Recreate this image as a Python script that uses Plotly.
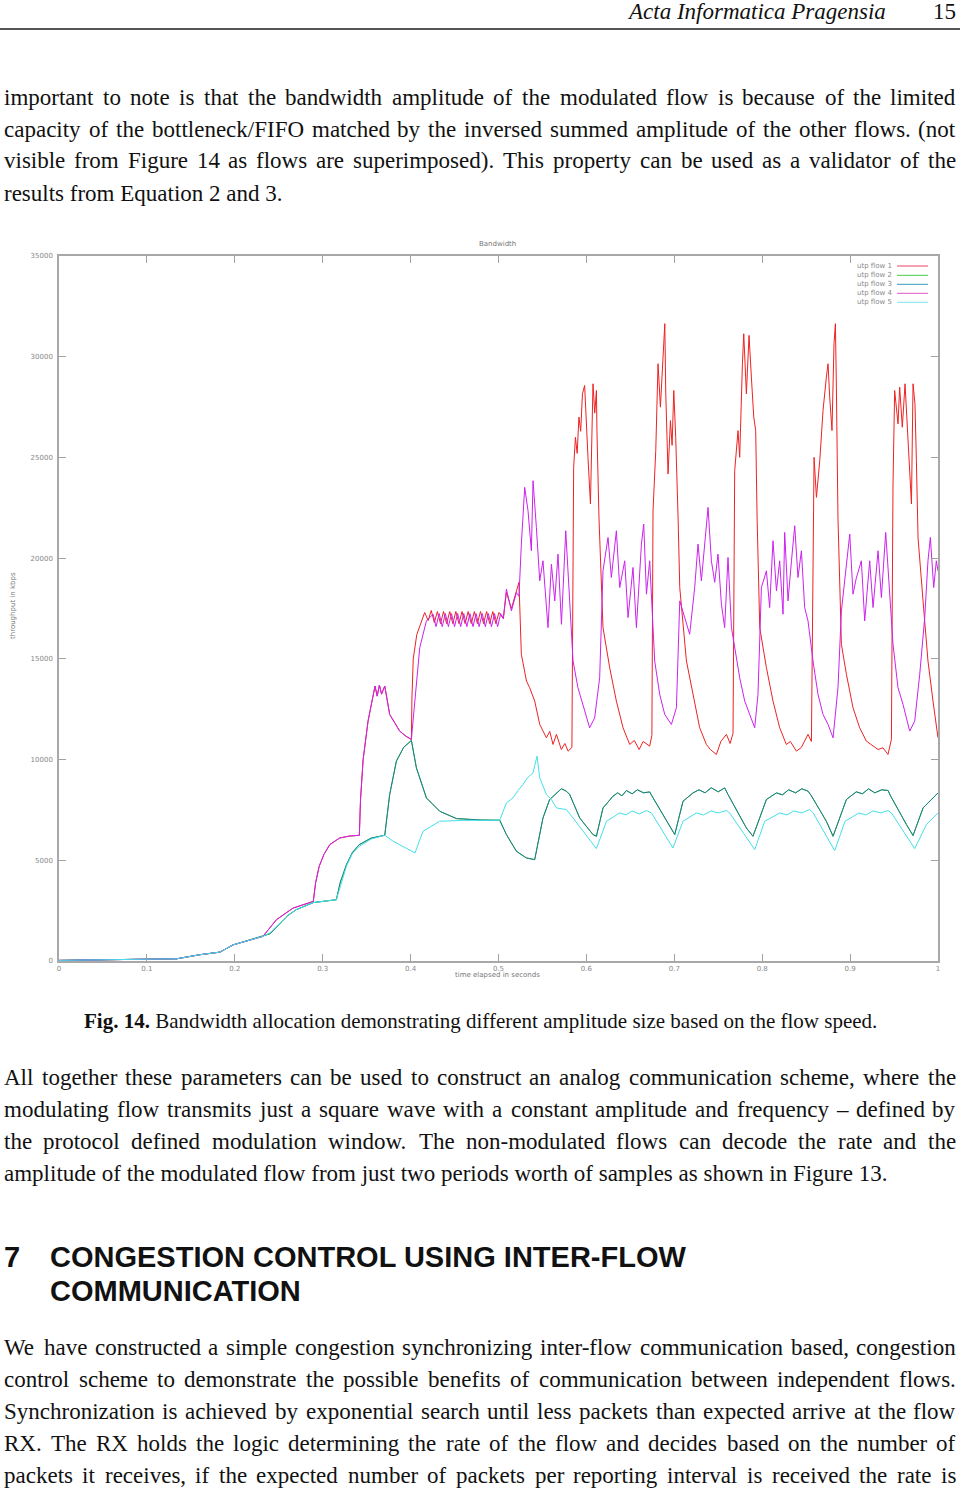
import plotly.graph_objects as go

# ------------------------------------------------------------------ data
x_ticks = [0, 0.1, 0.2, 0.3, 0.4, 0.5, 0.6, 0.7, 0.8, 0.9, 1.0]
x_tick_labels = ["0", "0.1", "0.2", "0.3", "0.4", "0.5", "0.6", "0.7", "0.8", "0.9", "1"]
y_ticks = [0, 5000, 10000, 15000, 20000, 25000, 30000, 35000]
y_tick_labels = ["0", "5000", "10000", "15000", "20000", "25000", "30000", "35000"]

flow_names = ["utp flow 1", "utp flow 2", "utp flow 3", "utp flow 4", "utp flow 5"]

# start-up phase shared by all flows (time in s, throughput in kbps)
early_x = [0.0, 0.02, 0.05, 0.08, 0.10, 0.12, 0.134, 0.16, 0.183, 0.198, 0.213, 0.232]
early_y = [30, 40, 50, 60, 70, 90, 110, 310, 440, 800, 1000, 1220]

# fast pair (flows 1 and 4) until 0.40 s
fast_x = [0.2473, 0.2662, 0.2893, 0.292, 0.296, 0.3015, 0.3081, 0.3193, 0.33, 0.3417,
          0.343, 0.346, 0.3516, 0.3573, 0.3595, 0.362, 0.3645, 0.367, 0.3706,
          0.3762, 0.3876, 0.395, 0.4009]
fast_y = [2049, 2626, 2959, 3900, 4700, 5300, 5779, 6107, 6200, 6241,
          8000, 10000, 11911, 13238, 13650, 13150, 13700, 13250, 13651,
          12244, 11413, 11150, 11000]

# flow 1 (red) from 0.40 s
red_x = [0.4015, 0.403, 0.407, 0.412, 0.416, 0.42, 0.4235, 0.427, 0.4305, 0.434, 0.4375,
         0.441, 0.4445, 0.448, 0.4515, 0.455, 0.4585, 0.462, 0.4655, 0.469, 0.4725, 0.476,
         0.4795, 0.483, 0.4865, 0.49, 0.4935, 0.497, 0.5005, 0.5055,
         0.509, 0.5147, 0.5204, 0.5233, 0.526, 0.5318, 0.5355, 0.5412, 0.5469, 0.5545,
         0.5583, 0.562, 0.5659, 0.5715, 0.5755, 0.5792, 0.5835,
         0.5848, 0.5855, 0.5875, 0.5895, 0.5915, 0.5935, 0.5955, 0.598, 0.6018, 0.6046,
         0.6075, 0.6095, 0.6114, 0.612, 0.6143, 0.6189, 0.6265, 0.6341, 0.6417, 0.6493,
         0.6545, 0.66, 0.6645, 0.672, 0.6745,
         0.6758, 0.6789, 0.6815, 0.6842, 0.6872, 0.6892, 0.6903, 0.6929, 0.6956, 0.6975,
         0.6994, 0.7016, 0.7043, 0.7062, 0.7138, 0.7213, 0.7289, 0.7365, 0.741, 0.7479,
         0.753, 0.7593, 0.7635, 0.7668,
         0.7687, 0.7725, 0.7744, 0.7775, 0.779, 0.782, 0.785, 0.7877, 0.7904, 0.7926,
         0.7942, 0.7972, 0.8048, 0.8123, 0.8199, 0.8275, 0.832, 0.8389, 0.8445, 0.8521, 0.856,
         0.859, 0.8617, 0.8655, 0.8692, 0.873, 0.8749, 0.8768, 0.8794, 0.8817, 0.8833,
         0.8844, 0.8862, 0.8901, 0.8958, 0.9033, 0.9109, 0.9185, 0.925, 0.9318, 0.9374,
         0.9431, 0.947,
         0.9488, 0.9507, 0.9545, 0.9564, 0.9594, 0.9625, 0.9645, 0.967, 0.9698, 0.9716,
         0.9738, 0.9754, 0.9773, 0.983, 0.9886, 0.9943, 1.0]
red_y = [13000, 15000, 16200, 16800, 17300, 16900, 17400, 16800, 17350, 16750, 17350,
         16750, 17350, 16750, 17350, 16750, 17350, 16750, 17350, 16750, 17350, 16750,
         17350, 16750, 17350, 16750, 17350, 16750, 17300, 17000,
         18300, 17500, 18400, 18800, 15228, 13900, 13566, 12905, 11746, 11080,
         11400, 10750, 11250, 10500, 10800, 10418, 10600,
         22350, 24500, 26000, 25200, 27000, 26300, 28157, 28572, 25006, 22687,
         28655, 27200, 28323, 26333, 22000, 16550, 14561, 12905, 11577, 10750,
         10950, 10500, 10900, 10667, 11200,
         22350, 25337, 29650, 27495, 30314, 31640, 28157, 24180, 26830, 25600,
         28323, 26000, 22000, 18540, 14893, 13235, 11577, 10750, 10500, 10254,
         10900, 11250, 10800, 11300,
         24345, 26333, 25006, 29650, 31142, 28157, 31059, 28987, 26996, 26333,
         22000, 16550, 14561, 12905, 11577, 10750, 10900, 10418, 10600, 11250, 10900,
         25006, 23016, 24841, 27329, 28987, 29650, 27992, 26333, 30645, 31640,
         28489, 22000, 15725, 14233, 12573, 11577, 10915, 10700, 10500, 10584,
         10254, 11000,
         23680, 28323, 26665, 28489, 26499, 28655, 27000, 25006, 22687, 28655,
         27660, 24841, 21000, 17878, 14893, 12905, 11080]

# flow 4 (magenta) from 0.40 s
mag_x = [0.404, 0.4104, 0.418, 0.4256, 0.429, 0.4325, 0.436, 0.4395, 0.443, 0.4465, 0.45,
         0.4535, 0.457, 0.4605, 0.464, 0.4675, 0.471, 0.4745, 0.478, 0.4815, 0.485, 0.4885,
         0.492, 0.4955, 0.499, 0.5025, 0.5055,
         0.509, 0.5147, 0.5204, 0.5233, 0.526, 0.5298, 0.5336, 0.5374, 0.5393, 0.5431,
         0.5469, 0.5506, 0.5563, 0.5602, 0.564, 0.5677, 0.5716, 0.5765, 0.5802,
         0.5848, 0.5904, 0.5961, 0.6037, 0.6094, 0.6151,
         0.6189, 0.6246, 0.6284, 0.6341, 0.6379, 0.6436, 0.6474, 0.653, 0.6569, 0.6626,
         0.6652, 0.6683, 0.672,
         0.6777, 0.6834, 0.6891, 0.6967, 0.7024,
         0.7062, 0.7118, 0.7175, 0.7232, 0.727, 0.7308, 0.7357, 0.7384, 0.7422, 0.746,
         0.7497, 0.7536, 0.7573, 0.7611, 0.765,
         0.7687, 0.7744, 0.7801, 0.7858, 0.7915, 0.7952,
         0.7991, 0.8048, 0.8085, 0.8123, 0.8162, 0.8199, 0.8237, 0.8256, 0.8294, 0.8333,
         0.837, 0.8407, 0.8446, 0.8483, 0.8521,
         0.8578, 0.8635, 0.8692, 0.8749, 0.8806, 0.8862,
         0.8901, 0.8958, 0.8996, 0.9033, 0.907, 0.9128, 0.9166, 0.9223, 0.9261, 0.9318,
         0.9356, 0.9405, 0.9443,
         0.9488, 0.9545, 0.9602, 0.9678, 0.9735, 0.9792,
         0.9849, 0.9886, 0.9913, 0.9951, 0.9981, 1.0]
mag_y = [12500, 15556, 16883, 17215, 16600, 17250, 16600, 17250, 16600, 17250, 16600,
         17250, 16600, 17250, 16600, 17250, 16600, 17250, 16600, 17250, 16600, 17250,
         16600, 17250, 16600, 17250, 17000,
         18458, 17380, 18290, 18100, 20697, 23514, 22355, 20366, 23845, 21526,
         18873, 19868, 16550, 19702, 17878, 20200, 16716, 21360, 18210,
         14893, 13566, 12739, 11577, 12075, 14064,
         19370, 21028, 19039, 21360, 18541, 19868, 17049, 19536, 16550, 20697,
         21692, 18210, 19868,
         14893, 13235, 12241, 11743, 12573,
         17878, 17049, 16220, 18541, 20697, 18873, 21028, 22520, 19868, 18800,
         20200, 17712, 16550, 20034, 16550,
         15560, 14064, 12905, 12241, 11577, 13235,
         18541, 19370, 17546, 20863, 18375, 19868, 17215, 21277, 17878, 19868,
         21609, 19039, 20366, 17546, 16883,
         14893, 13235, 12241, 11743, 11080, 13566,
         17380, 19702, 21194, 18210, 19000, 19868, 16883, 19868, 17546, 20366,
         18042, 21277, 18541,
         15725, 13566, 12739, 11412, 11909, 14233,
         17049, 19868, 21028, 18541, 19868, 19370]

# flow 3 (blue) after the start-up phase
blue_x = [0.24, 0.25, 0.26, 0.27, 0.2893, 0.3155, 0.32, 0.327, 0.334, 0.3417, 0.355, 0.3706,
          0.3735, 0.3762, 0.3838, 0.392, 0.4009, 0.4066, 0.418, 0.4331, 0.4521, 0.48, 0.5014,
          0.509, 0.5204, 0.5318, 0.5412, 0.545, 0.5506, 0.5582, 0.5659, 0.5715, 0.5772, 0.581,
          0.5924, 0.6075, 0.6114, 0.6189, 0.6303, 0.6355, 0.6405, 0.6455, 0.652, 0.658, 0.665,
          0.672, 0.6745, 0.691, 0.7005, 0.7099, 0.7213, 0.728, 0.735, 0.742, 0.75, 0.7573,
          0.7611, 0.782, 0.7895, 0.8048, 0.8162, 0.823, 0.83, 0.838, 0.845, 0.8522, 0.856,
          0.873, 0.8806, 0.8958, 0.907, 0.914, 0.921, 0.928, 0.936, 0.9432, 0.946, 0.9641,
          0.9716, 0.983, 0.992, 1.0]
blue_y = [1350, 1800, 2250, 2550, 2900, 3043, 3900, 4784, 5400, 5779, 6100, 6241,
          7200, 8265, 9921, 10600, 10950, 9589, 8096, 7435, 7070, 7000, 6987,
          6276, 5446, 5114, 5032, 5942, 7101, 8017, 8345, 8550, 8430, 8265,
          7101, 6276, 6192, 7599, 8181, 8350, 8200, 8464, 8300, 8500, 8350,
          8394, 8200, 6937, 6276, 7932, 8345, 8500, 8350, 8600, 8400, 8594,
          8265, 6604, 6192, 8017, 8345, 8250, 8500, 8350, 8550, 8430, 8200,
          6937, 6192, 8017, 8400, 8300, 8550, 8350, 8500, 8464, 8200, 6773,
          6226, 7599, 8000, 8345]

# flow 5 (cyan) after the start-up phase
cyan_x = [0.24, 0.25, 0.26, 0.27, 0.2893, 0.3155, 0.32, 0.327, 0.334, 0.3417, 0.355, 0.3706,
          0.38, 0.39, 0.398, 0.405, 0.4141, 0.4331, 0.46, 0.5014,
          0.509, 0.5165, 0.522, 0.5279, 0.533, 0.5393, 0.5438, 0.5469, 0.5545, 0.5602,
          0.5659, 0.5772, 0.5848, 0.6114, 0.6228, 0.6379, 0.645, 0.652, 0.66, 0.6683, 0.674,
          0.6985, 0.7099, 0.725, 0.733, 0.742, 0.75, 0.7593, 0.763,
          0.7915, 0.8029, 0.82, 0.828, 0.836, 0.845, 0.854, 0.858,
          0.8825, 0.8942, 0.91, 0.918, 0.926, 0.935, 0.9432, 0.947,
          0.9735, 0.9868, 1.0]
cyan_y = [1400, 1800, 2250, 2550, 2900, 3043, 3700, 4700, 5350, 5700, 6050, 6241,
          5950, 5700, 5500, 5361, 6440, 6937, 6980, 6987,
          7848, 8096, 8450, 8762, 9100, 9341, 10170, 9092, 8265, 8017,
          7599, 7519, 7101, 5580, 6937, 7350, 7250, 7450, 7300, 7470, 7350,
          5610, 6937, 7350, 7250, 7450, 7350, 7470, 7350,
          5530, 6937, 7350, 7250, 7450, 7350, 7519, 7350,
          5480, 6937, 7350, 7250, 7450, 7350, 7470, 7350,
          5580, 6773, 7350]

flow1_x, flow1_y = early_x + fast_x + red_x, early_y + fast_y + red_y
flow4_x, flow4_y = early_x + fast_x + mag_x, early_y + fast_y + mag_y
flow3_x, flow3_y = early_x + blue_x, early_y + blue_y
# flow 2 is drawn exactly underneath flow 3 in the source plot
flow2_x, flow2_y = list(flow3_x), list(flow3_y)
flow5_x, flow5_y = early_x + cyan_x, early_y + cyan_y

# ------------------------------------------------------------------ page geometry
W, H = 960, 1488
ML, MR, MT, MB = 59, 22, 256, 527
PW, PH = W - ML - MR, H - MT - MB


def px(x):
    return (x - ML) / PW


def py(y):
    return (H - MB - y) / PH


colors = ["#ee2222", "#33bb33", "#1f7f8f", "#cc22ee", "#44e0e8"]
legend_colors = ["#ee4466", "#44cc44", "#3399bb", "#dd55cc", "#77e6f0"]
series = [(flow1_x, flow1_y), (flow2_x, flow2_y), (flow3_x, flow3_y),
          (flow4_x, flow4_y), (flow5_x, flow5_y)]

fig = go.Figure()
for name, (xs, ys), c in zip(flow_names, series, colors):
    fig.add_trace(go.Scatter(x=xs, y=ys, mode="lines", name=name,
                             line=dict(color=c, width=1), showlegend=False))

axis_common = dict(ticks="inside", ticklen=7, tickwidth=1, tickcolor="#a0a0a0",
                   showline=True, linecolor="#a8a8a8", linewidth=1.5, mirror="ticks",
                   showgrid=False, zeroline=False,
                   tickfont=dict(family="DejaVu Sans", size=7, color="#888888"))
fig.update_xaxes(range=[0, 1], tickvals=x_ticks, ticktext=x_tick_labels, **axis_common)
fig.update_yaxes(range=[0, 35000], tickvals=y_ticks, ticktext=y_tick_labels,
                 ticklabelstandoff=3, **axis_common)

fig.update_layout(width=W, height=H, margin=dict(l=ML, r=MR, t=MT, b=MB, pad=0),
                  paper_bgcolor="white", plot_bgcolor="white", showlegend=False)

annotations = []
shapes = []


def add_text(text, x, y, size, family, anchor="left", color="#111111", angle=0):
    annotations.append(dict(text=text, x=px(x), y=py(y), xref="paper", yref="paper",
                            xanchor=anchor, yanchor="middle", showarrow=False,
                            borderpad=0, borderwidth=0, textangle=angle,
                            font=dict(family=family, size=size, color=color)))


# chart texts
small = "DejaVu Sans"
add_text("Bandwidth", 497, 244, 7, small, "center", "#777777")
add_text("time elapsed in seconds", 497, 975, 7, small, "center", "#777777")
add_text("throughput in kbps", 13, 606, 7, small, "center", "#777777", angle=-90)

legend_rows = [266, 275.3, 284.3, 293.3, 302.3]
for name, c, yy in zip(flow_names, legend_colors, legend_rows):
    add_text(name, 892, yy, 7, small, "right", "#888888")
    shapes.append(dict(type="line", xref="paper", yref="paper", x0=px(897), x1=px(928),
                       y0=py(yy), y1=py(yy), line=dict(color=c, width=1)))

# Times-Roman advance widths (Liberation Serif is metric compatible)
TW = {' ': 250, '(': 333, ')': 333, ',': 250, '-': 333, '.': 250, '/': 278, ':': 278,
      '–': 500, 'A': 722, 'B': 667, 'C': 667, 'D': 722, 'E': 611, 'F': 556, 'G': 722,
      'H': 722, 'I': 333, 'J': 389, 'K': 722, 'L': 611, 'M': 889, 'N': 722, 'O': 722,
      'P': 556, 'Q': 722, 'R': 667, 'S': 556, 'T': 611, 'U': 722, 'V': 722, 'W': 944,
      'X': 722, 'Y': 722, 'Z': 611, 'a': 444, 'b': 500, 'c': 444, 'd': 500, 'e': 444,
      'f': 333, 'g': 500, 'h': 500, 'i': 278, 'j': 278, 'k': 500, 'l': 278, 'm': 778,
      'n': 500, 'o': 500, 'p': 500, 'q': 500, 'r': 333, 's': 389, 't': 278, 'u': 500,
      'v': 500, 'w': 722, 'x': 500, 'y': 500, 'z': 444}

SERIF = "Liberation Serif"
BODY = 23


def justified(line, y, left=4, right=956, size=BODY):
    words = line.split(" ")
    widths = [sum(TW.get(ch, 500) for ch in w) * size / 1000 for w in words]
    gap = (right - left - sum(widths)) / (len(words) - 1)
    x = left
    for i, (w, wd) in enumerate(zip(words, widths)):
        if i == len(words) - 1:
            add_text(w, right, y, size, SERIF, "right")
        else:
            add_text(w, x, y, size, SERIF, "left")
        x += wd + gap


para1 = ["important to note is that the bandwidth amplitude of the modulated flow is because of the limited",
         "capacity of the bottleneck/FIFO matched by the inversed summed amplitude of the other flows. (not",
         "visible from Figure 14 as flows are superimposed). This property can be used as a validator of the"]
para1_last = "results from Equation 2 and 3."
para2 = ["All together these parameters can be used to construct an analog communication scheme, where the",
         "modulating flow transmits just a square wave with a constant amplitude and frequency – defined by",
         "the protocol defined modulation window. The non-modulated flows can decode the rate and the"]
para2_last = "amplitude of the modulated flow from just two periods worth of samples as shown in Figure 13."
para3 = ["We have constructed a simple congestion synchronizing inter-flow communication based, congestion",
         "control scheme to demonstrate the possible benefits of communication between independent flows.",
         "Synchronization is achieved by exponential search until less packets than expected arrive at the flow",
         "RX. The RX holds the logic determining the rate of the flow and decides based on the number of",
         "packets it receives, if the expected number of packets per reporting interval is received the rate is"]

LH = 32
for i, ln in enumerate(para1):
    justified(ln, 97 + i * LH)
add_text(para1_last, 4, 97 + 3 * LH, BODY, SERIF)

for i, ln in enumerate(para2):
    justified(ln, 1077 + i * LH)
add_text(para2_last, 4, 1077 + 3 * LH, BODY, SERIF)

for i, ln in enumerate(para3):
    justified(ln, 1347 + i * LH)

# caption
add_text("<b>Fig. 14.</b> Bandwidth allocation demonstrating different amplitude size based on the flow speed.",
         480.5, 1021, 21, SERIF, "center")

# heading
add_text("<b>7</b>", 4, 1257, 29, "Liberation Sans")
add_text("<b>CONGESTION CONTROL USING INTER-FLOW</b>", 50, 1257, 29, "Liberation Sans")
add_text("<b>COMMUNICATION</b>", 50, 1291, 29, "Liberation Sans")

# running header
add_text("<i>Acta Informatica Pragensia</i>", 886, 12, 23, SERIF, "right")
add_text("15", 956, 12, 23, SERIF, "right")
shapes.append(dict(type="line", xref="paper", yref="paper", x0=px(0), x1=px(960),
                   y0=py(29), y1=py(29), line=dict(color="#555555", width=2)))

fig.update_layout(annotations=annotations, shapes=shapes)
fig.write_html("out.html", config={"displayModeBar": False},
               post_script="document.body.style.margin='0px';document.body.style.overflow='hidden';")
